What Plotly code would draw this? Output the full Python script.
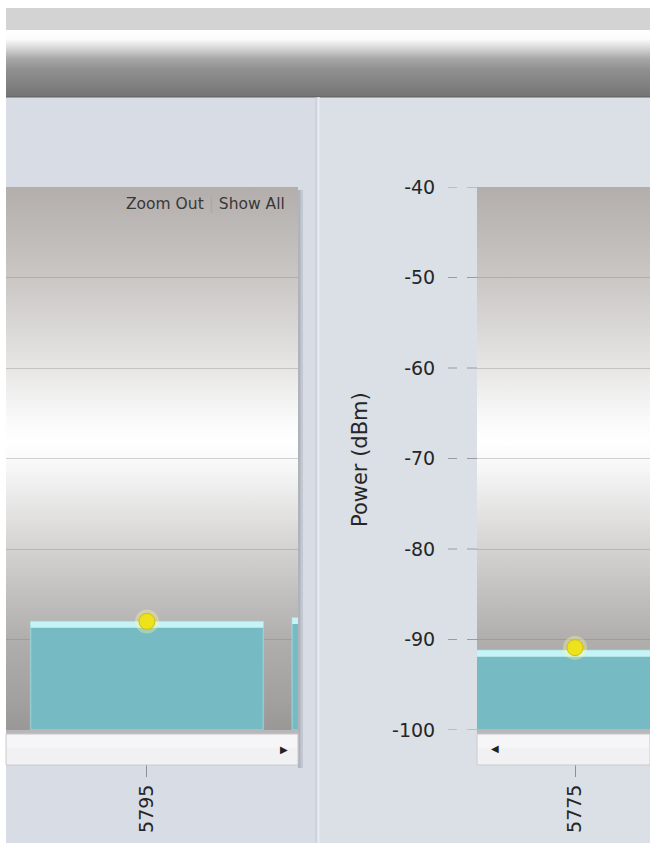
import plotly.graph_objects as go

# ---- data -------------------------------------------------------------
# Left spectrum panel: channel centre frequency (MHz) and measured power (dBm)
left_channels = [5795, 5815]
left_power = [-88.0, -87.6]
left_peak_channels = [5795]
left_peak_power = [-88.0]

# Right spectrum panel
right_channels = [5775]
right_power = [-91.2]
right_peak_channels = [5775]
right_peak_power = [-90.9]

y_ticks = [-100, -90, -80, -70, -60, -50, -40]
y_tick_text = ["-100", "-90", "-80", "-70", "-60", "-50", "-40"]
left_tick_labels = ["5795", "5815"]
right_tick_labels = ["5775"]
y_title = "Power (dBm)"
zoom_text = "Zoom Out"
show_all_text = "Show All"

# ---- page geometry (pixels) ------------------------------------------
W, H = 650, 843
Y_MIN, Y_MAX = -100, -40
BAR_WIDTH = 17.8
PLOT_TOP, PLOT_BOTTOM = 187, 730
LEFT_PLOT = (6, 298)
RIGHT_PLOT = (477, 650)
LEFT_XRANGE = [5784.22, 5806.55]
RIGHT_XRANGE = [5767.5, 5780.74]

FONT = "DejaVu Sans"
TEXT_COLOR = "#262626"


def px(x):
    return x / W


def py(y):
    return 1 - y / H


def gradient_rect(x0, x1, y0, y1, stops):
    """Filled rectangle with a vertical gradient on the page-pixel axes."""
    return go.Scatter(
        x=[x0, x1, x1, x0, x0],
        y=[y0, y0, y1, y1, y0],
        mode="lines",
        line=dict(width=0, color="rgba(0,0,0,0)"),
        fill="toself",
        fillgradient=dict(type="vertical", colorscale=stops, start=y0, stop=y1),
        hoverinfo="skip",
        showlegend=False,
        xaxis="x",
        yaxis="y",
    )


plot_stops = [
    [0.00, "#b3aeab"],
    [0.17, "#cac7c5"],
    [0.33, "#e6e5e4"],
    [0.43, "#fafafa"],
    [0.47, "#ffffff"],
    [0.52, "#f6f6f6"],
    [0.66, "#d6d4d3"],
    [0.83, "#b1afad"],
    [0.95, "#a2a09f"],
    [1.00, "#9a9897"],
]
header_stops = [
    [0.00, "#ffffff"],
    [0.14, "#fbfbfb"],
    [0.30, "#d0d0d0"],
    [0.44, "#a6a6a6"],
    [0.60, "#909090"],
    [0.80, "#838383"],
    [1.00, "#747474"],
]

fig = go.Figure()

# page decoration: header bar and the two plot backgrounds
fig.add_trace(gradient_rect(6, W, 30, 96, header_stops))
fig.add_trace(gradient_rect(LEFT_PLOT[0], LEFT_PLOT[1], PLOT_TOP, PLOT_BOTTOM, plot_stops))
fig.add_trace(gradient_rect(RIGHT_PLOT[0], RIGHT_PLOT[1], PLOT_TOP, PLOT_BOTTOM, plot_stops))

BAR_COLOR = "#76bbc3"
BAR_EDGE = "rgba(160,225,230,0.55)"
HIGHLIGHT = "#c6f4f6"
HL_DEPTH = 0.7
DOT_COLOR = "#eee21c"


def add_panel(channels, power, peak_x, peak_y, xa, ya):
    fig.add_trace(go.Bar(
        x=channels, y=[p - Y_MIN for p in power], base=[Y_MIN] * len(power),
        width=BAR_WIDTH, marker=dict(color=BAR_COLOR, line=dict(color=BAR_EDGE, width=1.5)),
        hoverinfo="skip", showlegend=False, xaxis=xa, yaxis=ya,
    ))
    fig.add_trace(go.Bar(
        x=channels, y=[HL_DEPTH] * len(power), base=[p - HL_DEPTH for p in power],
        width=BAR_WIDTH, marker=dict(color=HIGHLIGHT, line=dict(width=0)),
        hoverinfo="skip", showlegend=False, xaxis=xa, yaxis=ya,
    ))
    fig.add_trace(go.Scatter(
        x=peak_x, y=peak_y, mode="markers",
        marker=dict(size=24, color="rgba(255,250,150,0.35)", line=dict(width=0)),
        hoverinfo="skip", showlegend=False, xaxis=xa, yaxis=ya,
    ))
    fig.add_trace(go.Scatter(
        x=peak_x, y=peak_y, mode="markers",
        marker=dict(size=16, color=DOT_COLOR, line=dict(color="#cdbf10", width=1)),
        hoverinfo="skip", showlegend=False, xaxis=xa, yaxis=ya,
    ))


add_panel(left_channels, left_power, left_peak_channels, left_peak_power, "x2", "y2")
add_panel(right_channels, right_power, right_peak_channels, right_peak_power, "x3", "y3")

# ---- shapes -----------------------------------------------------------
shapes = []


def rect(x0, y0, x1, y1, fill, layer="below", line=None):
    shapes.append(dict(
        type="rect", xref="paper", yref="paper",
        x0=px(x0), x1=px(x1), y0=py(y1), y1=py(y0),
        fillcolor=fill, line=line or dict(width=0), layer=layer,
    ))


def vline(x, y0, y1, color, width=1, layer="below"):
    shapes.append(dict(
        type="line", xref="paper", yref="paper",
        x0=px(x), x1=px(x), y0=py(y1), y1=py(y0),
        line=dict(color=color, width=width), layer=layer,
    ))


# body and header bands
rect(6, 97, 320, H, "#d8dde5")
rect(320, 97, W, H, "#dbdfe6")
rect(6, 8, W, 30, "#d3d3d3")
rect(6, 95, W, 97.5, "#686868")
vline(316, 97, H, "#c6cbd3")
vline(318.5, 97, H, "#e9ecf0", width=2)

# drop shadows around the plot frames
rect(LEFT_PLOT[1], PLOT_TOP + 3, LEFT_PLOT[1] + 5, 768, "rgba(90,90,100,0.16)")
rect(LEFT_PLOT[1], PLOT_TOP + 3, LEFT_PLOT[1] + 2.5, 768, "rgba(90,90,100,0.18)")

# scroll bars under each plot
for x0, x1 in (LEFT_PLOT, RIGHT_PLOT):
    rect(x0, PLOT_BOTTOM, x1, PLOT_BOTTOM + 4, "#b9b8b8", layer="above")
    rect(x0, PLOT_BOTTOM + 4, x1, 765, "#f1f1f4", layer="above",
         line=dict(color="#c9cace", width=1))
    rect(x0 + 1, PLOT_BOTTOM + 5, x1 - 1, 748, "#f6f6f8", layer="above")

# two-segment dashed tick marks on the right y axis
for t in y_ticks:
    for a, b in ((448, 457), (467, 477)):
        shapes.append(dict(
            type="line", xref="paper", yref="y3",
            x0=px(a), x1=px(b), y0=t, y1=t,
            line=dict(color="#9a9ca2", width=1), layer="above",
        ))

# ---- annotations ------------------------------------------------------
annotations = [
    dict(
        xref="paper", yref="paper", x=px(287), y=py(204),
        xanchor="right", yanchor="middle", showarrow=False,
        text=(f'{zoom_text} <span style="color:#a9a9a9">|</span> {show_all_text}'),
        font=dict(family=FONT, size=15.5, color="#383838"),
    ),
    dict(
        xref="paper", yref="paper", x=px(360), y=py(460),
        xanchor="center", yanchor="middle", showarrow=False, textangle=-90,
        text=y_title, font=dict(family=FONT, size=21, color=TEXT_COLOR),
    ),
    dict(
        xref="paper", yref="paper", x=px(284), y=py(749),
        xanchor="center", yanchor="middle", showarrow=False,
        text="\u25b6", font=dict(family=FONT, size=10, color="#222222"),
    ),
    dict(
        xref="paper", yref="paper", x=px(495), y=py(748),
        xanchor="center", yanchor="middle", showarrow=False,
        text="\u25c0", font=dict(family=FONT, size=10, color="#222222"),
    ),
]

# ---- axes -------------------------------------------------------------
y_domain = [py(PLOT_BOTTOM), py(PLOT_TOP)]
grid_color = "rgba(120,120,120,0.32)"

x_common = dict(
    tickangle=-90, ticks="outside", ticklen=46, tickcolor="#8d8f95", tickwidth=1,
    showgrid=False, zeroline=False, showline=False, fixedrange=True, automargin=False,
    tickfont=dict(family=FONT, size=19, color=TEXT_COLOR),
)

fig.update_layout(
    width=W, height=H,
    autosize=False,
    margin=dict(l=0, r=0, t=0, b=0, pad=0, autoexpand=False),
    paper_bgcolor="#ffffff",
    plot_bgcolor="rgba(0,0,0,0)",
    barmode="overlay",
    hovermode=False,
    showlegend=False,
    shapes=shapes,
    annotations=annotations,
    xaxis=dict(domain=[0, 1], range=[0, W], visible=False, fixedrange=True, automargin=False),
    yaxis=dict(domain=[0, 1], range=[H, 0], visible=False, fixedrange=True, automargin=False),
    xaxis2=dict(domain=[px(LEFT_PLOT[0]), px(LEFT_PLOT[1])], range=LEFT_XRANGE, anchor="y2",
                tickvals=left_channels, ticktext=left_tick_labels, **x_common),
    yaxis2=dict(domain=y_domain, range=[Y_MIN, Y_MAX], anchor="x2",
                tickvals=y_ticks, showticklabels=False, ticks="",
                showgrid=True, gridcolor=grid_color, gridwidth=1, automargin=False,
                zeroline=False, showline=False, fixedrange=True),
    xaxis3=dict(domain=[px(RIGHT_PLOT[0]), 1], range=RIGHT_XRANGE, anchor="y3",
                tickvals=right_channels, ticktext=right_tick_labels, **x_common),
    yaxis3=dict(domain=y_domain, range=[Y_MIN, Y_MAX], anchor="x3",
                tickvals=y_ticks, ticktext=y_tick_text,
                ticks="outside", ticklen=37, tickcolor="rgba(0,0,0,0)",
                tickfont=dict(family=FONT, size=19, color=TEXT_COLOR),
                showgrid=True, gridcolor=grid_color, gridwidth=1, automargin=False,
                zeroline=False, showline=False, fixedrange=True),
)

fig.write_html("out.html", config={"displayModeBar": False})
